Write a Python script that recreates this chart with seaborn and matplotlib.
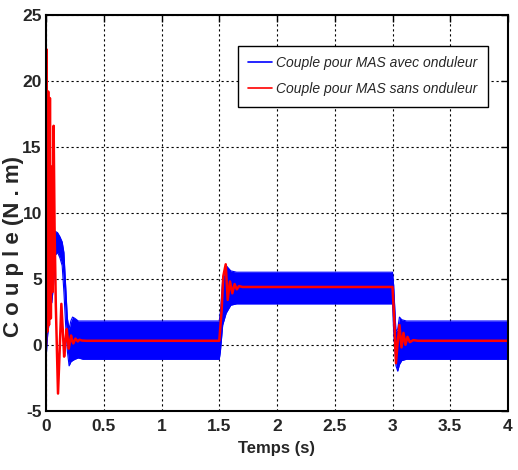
import matplotlib
matplotlib.use("Agg")
import matplotlib.pyplot as plt
from matplotlib import font_manager
from matplotlib.lines import Line2D
import seaborn as sns
import pandas as pd

# ---- data ----
# Red: torque without inverter (keypoints)
red_t = [0, 0.004, 0.011, 0.019, 0.026, 0.034, 0.042, 0.050, 0.057, 0.066, 0.074,
         0.085, 0.104, 0.118, 0.133, 0.146, 0.157, 0.168, 0.179, 0.188, 0.197,
         0.207, 0.217, 0.227, 0.237, 0.246, 0.255, 0.265, 0.275, 0.29, 0.31, 0.35,
         1.5, 1.52, 1.535, 1.556, 1.573, 1.593, 1.613, 1.633, 1.652, 1.672, 1.70,
         3.0, 3.015, 3.03, 3.045, 3.06, 3.078, 3.095, 3.112, 3.13, 3.15, 3.18, 3.22, 4.0]
red_v = [0, 22.4, 1.0, 19.2, 1.5, 18.7, 2.0, 13.5, 4.0, 16.6, 9.0,
         3.0, -3.7, -0.5, 3.1, 1.0, -0.9, 0.2, 1.2, 0.5, -0.3,
         0.2, 0.7, 0.3, 0.1, 0.3, 0.47, 0.35, 0.25, 0.38, 0.32, 0.3,
         0.3, 2.5, 5.2, 6.1, 3.4, 4.8, 3.9, 4.6, 4.2, 4.45, 4.38,
         4.38, 2.0, -1.4, 0.2, 1.5, -0.2, 0.9, 0.0, 0.6, 0.2, 0.35, 0.3, 0.3]

# Blue: torque with inverter (ripple envelope: lower / upper)
blue_t = [0, 0.004, 0.008, 0.015, 0.025, 0.035, 0.05, 0.065, 0.08, 0.10, 0.12, 0.14,
          0.155, 0.17, 0.185, 0.20, 0.215, 0.23, 0.25, 0.28, 0.32,
          1.5, 1.51, 1.53, 1.56, 1.60, 1.65, 1.70,
          3.0, 3.01, 3.03, 3.045, 3.06, 3.08, 3.12, 3.2, 4.0]
blue_lo = [0, -0.6, 0.0, 0.8, 1.5, 3.0, 3.2, 4.5, 6.8, 7.0, 6.6, 6.0,
           4.0, 1.5, -0.5, -1.6, -1.3, -1.2, -1.1, -1.0, -1.1,
           -1.1, -0.5, 1.5, 2.4, 3.0, 3.1, 3.1,
           3.1, 1.0, -1.6, -2.0, -1.5, -1.2, -1.1, -1.1, -1.1]
blue_hi = [0, 5.0, 9.3, 9.0, 8.8, 8.6, 8.5, 8.5, 8.6, 8.5, 8.2, 7.8,
           7.0, 4.5, 2.0, 1.2, 1.8, 2.1, 2.0, 1.8, 1.8,
           1.8, 2.5, 5.0, 6.0, 5.6, 5.5, 5.5,
           5.5, 4.5, 1.0, 1.2, 2.1, 1.9, 1.8, 1.8, 1.8]

x_ticks = [0, 0.5, 1, 1.5, 2, 2.5, 3, 3.5, 4]
x_tick_labels = ["0", "0.5", "1", "1.5", "2", "2.5", "3", "3.5", "4"]
y_ticks = [-5, 0, 5, 10, 15, 20, 25]
y_tick_labels = ["-5", "0", "5", "10", "15", "20", "25"]
legend_labels = ["Couple pour MAS avec onduleur", "Couple pour MAS sans onduleur"]
x_label = "Temps (s)"
y_label = "C o u p l e (N . m)"

# ---- style ----
sns.set_style("white")
names = {f.name for f in font_manager.fontManager.ttflist}
fam = "Liberation Sans Narrow" if "Liberation Sans Narrow" in names else "Liberation Sans"
plt.rcParams["font.family"] = [fam, "DejaVu Sans"]

fig = plt.figure(figsize=(5.18, 4.70), dpi=100)
ax = fig.add_axes([46 / 518, 1 - 410.7 / 470, 462 / 518, 395.7 / 470])

blue = (0, 0, 1)
red = (1, 0, 0)

dfb = pd.DataFrame({"t": blue_t, "lo": blue_lo, "hi": blue_hi})
ax.fill_between(dfb["t"], dfb["lo"], dfb["hi"], color=blue, linewidth=0, zorder=2)
sns.lineplot(data=dfb, x="t", y="lo", ax=ax, color=blue, lw=0.8, sort=False, zorder=2)
sns.lineplot(data=dfb, x="t", y="hi", ax=ax, color=blue, lw=0.8, sort=False, zorder=2)

dfr = pd.DataFrame({"t": red_t, "v": red_v})
sns.lineplot(data=dfr, x="t", y="v", ax=ax, color=red, lw=1.8, sort=False, zorder=3)

ax.set_xlim(0, 4)
ax.set_ylim(-5, 25)
ax.set_xticks(x_ticks)
ax.set_xticklabels(x_tick_labels)
ax.set_yticks(y_ticks)
ax.set_yticklabels(y_tick_labels)

ax.grid(True, color="black", linestyle=(0, (2, 2.5)), linewidth=0.8, zorder=1)
ax.set_axisbelow(True)
for s in ax.spines.values():
    s.set_color("black")
    s.set_linewidth(1.5)
    s.set_zorder(5)

ax.tick_params(axis="both", direction="in", length=5, width=1, color="black",
               top=True, right=True, labelsize=12.5)
ax.tick_params(axis="x", pad=6)
ax.tick_params(axis="y", pad=3)
for lab in ax.get_xticklabels() + ax.get_yticklabels():
    lab.set_fontweight("bold")

ax.set_xlabel(x_label, fontsize=12, fontweight="bold", labelpad=5)
ax.set_ylabel(y_label, fontsize=16, fontweight="bold")
ax.yaxis.set_label_coords(-0.047, 0.416)

handles = [Line2D([0], [0], color=blue, lw=1.2), Line2D([0], [0], color=red, lw=1.2)]
leg = ax.legend(handles, legend_labels, loc="upper right",
                bbox_to_anchor=(0.957, 0.922), borderaxespad=0,
                fancybox=False, framealpha=1, edgecolor="black",
                prop={"family": [fam, "DejaVu Sans"], "style": "italic", "size": 10},
                handlelength=1.7, handletextpad=0.35, borderpad=0.75, labelspacing=0.85)
leg.get_frame().set_linewidth(1.0)
leg.set_zorder(6)

fig.savefig("out.png", dpi=100, facecolor="white")
